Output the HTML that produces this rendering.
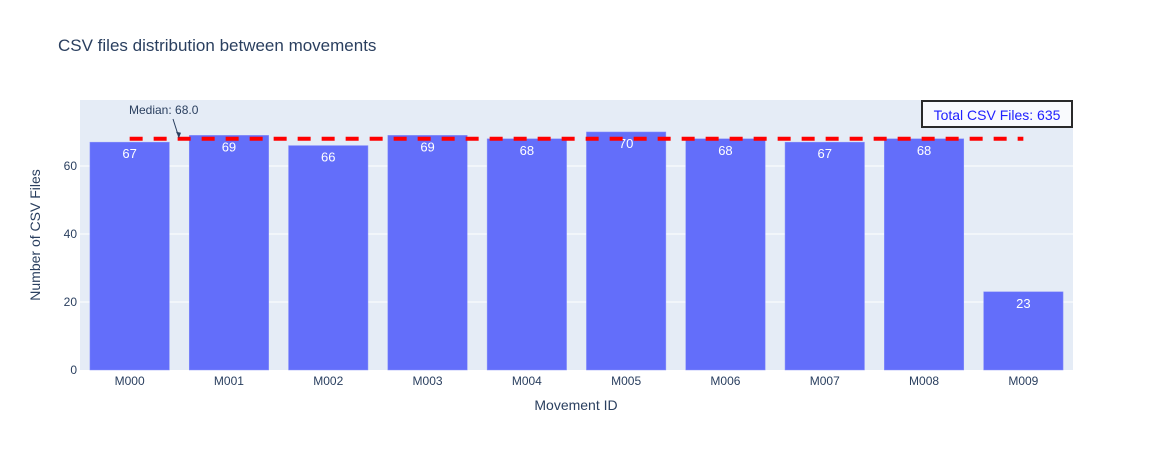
<!DOCTYPE html>
<html><head><meta charset="utf-8"><style>
body{margin:0;background:#fff;font-family:"Liberation Sans",Arial,sans-serif}
</style></head><body>
<svg width="1153" height="450" id="c" font-family="Liberation Sans, Arial, sans-serif">
<text x="58" y="51" font-size="17" fill="#2a3f5f">CSV files distribution between movements</text>
<rect x="80" y="100" width="993" height="270" fill="#e5ecf6"/>
<g id="grid"></g><g id="bars"></g><g id="ann"></g>
<text x="576" y="410" font-size="14" fill="#2a3f5f" text-anchor="middle">Movement ID</text>
<text transform="translate(40,235) rotate(-90)" font-size="14" fill="#2a3f5f" text-anchor="middle">Number of CSV Files</text>
</svg>
<script>
const categories=["M000","M001","M002","M003","M004","M005","M006","M007","M008","M009"];
const values=[67,69,66,69,68,70,68,67,68,23];
const yTicks=[0,20,40,60];
const median=68.0;
const total=635;
const NS="http://www.w3.org/2000/svg";
const x0=80,x1=1073,y0=370,yTop=100,yMax=79.4;
const step=(x1-x0)/categories.length;
const xc=i=>x0+step*(i+0.5);
const y=v=>y0-(v/yMax)*(y0-yTop);
function mk(t,a,p){const e=document.createElementNS(NS,t);for(const k in a)e.setAttribute(k,a[k]);p.appendChild(e);return e;}
const g=document.getElementById('grid'),b=document.getElementById('bars'),an=document.getElementById('ann');
yTicks.forEach(v=>{
 if(v>0){const l=mk('line',{x1:x0,x2:x1,y1:y(v),y2:y(v),stroke:'#fff','stroke-width':1},g);
 
 }
 const t=mk('text',{x:x0-3,y:y(v)+4,'font-size':12,fill:'#2a3f5f','text-anchor':'end'},g);t.textContent=v;
 
 
});
const bw=step*0.8;
categories.forEach((c,i)=>{
 const r=mk('rect',{x:xc(i)-bw/2,y:y(values[i]),width:bw,height:y0-y(values[i]),fill:'#636efa',stroke:'#8a93fb','stroke-width':0.5},b);
 
 
 const t=mk('text',{x:xc(i),y:y(values[i])+16,'font-size':13,fill:'#fff','text-anchor':'middle'},b);t.textContent=values[i];
 
 
 const xt=mk('text',{x:xc(i),y:y0+15,'font-size':12,fill:'#2a3f5f','text-anchor':'middle'},b);xt.textContent=c;
 
 
});
const ml=mk('line',{x1:xc(0),x2:xc(categories.length-1),y1:y(median),y2:y(median),stroke:'#ff0000','stroke-width':4,'stroke-dasharray':'13,11'},an);


const ar=mk('line',{x1:173,y1:119,x2:179,y2:y(median)-1,stroke:'#2a3f5f','stroke-width':1},an);


const ah=mk('path',{d:`M179 ${y(median)-1} l-3 -6 l5 1 z`,fill:'#2a3f5f'},an);


const mt=mk('text',{x:129,y:114,'font-size':12,fill:'#2a3f5f','text-anchor':'start'},an);mt.textContent='Median: '+median.toFixed(1);


const bx=mk('rect',{x:922,y:101,width:150,height:26,fill:'#f9fafd',stroke:'#2a2a2a','stroke-width':2},an);


const tt=mk('text',{x:997,y:120,'font-size':14,fill:'#2020ff','text-anchor':'middle'},an);tt.textContent='Total CSV Files: '+total;


</script>
</body></html>
